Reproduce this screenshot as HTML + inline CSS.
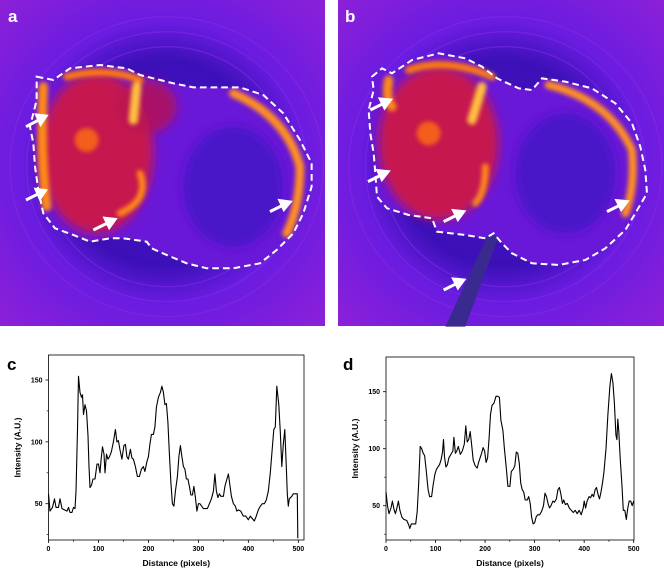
<!DOCTYPE html>
<html><head><meta charset="utf-8"><style>
body{margin:0;background:#fff;width:664px;height:572px;overflow:hidden;font-family:"Liberation Sans",sans-serif}
svg{position:absolute;left:0;top:0}
</style></head><body>
<svg id="s" width="664" height="572" xmlns="http://www.w3.org/2000/svg">
<defs>
<filter id="bl" x="-20%" y="-20%" width="140%" height="140%"><feGaussianBlur stdDeviation="14"/></filter>
<filter id="bl2" x="-20%" y="-20%" width="140%" height="140%"><feGaussianBlur stdDeviation="6"/></filter>
<radialGradient id="bg" cx="50%" cy="50%" r="70%"><stop offset="0" stop-color="#4a12c0"/><stop offset="0.45" stop-color="#3c10b8"/><stop offset="0.62" stop-color="#6a1ce0"/><stop offset="1" stop-color="#8c20d8"/></radialGradient>
</defs>
<g>
<rect x="0" y="0" width="325" height="326" fill="url(#bg)"/>
<g transform="scale(0.3333)">
<g fill="none" stroke="#8a2ae6" stroke-width="4" opacity="0.5">
<ellipse cx="500" cy="500" rx="470" ry="450"/><ellipse cx="500" cy="500" rx="420" ry="405"/><ellipse cx="500" cy="500" rx="370" ry="360"/>
</g>
<path d="M110,230 L160,240 210,205 300,195 380,205 420,225 520,250 580,262 660,262 720,262 790,285 850,340 900,420 935,490 935,560 910,640 880,700 830,750 780,790 700,805 620,805 560,790 500,765 455,745 440,725 370,715 330,715 270,725 220,705 165,685 130,640 115,570 105,500 100,430 90,380 110,300Z" fill="#6a18d8"/>
<g filter="url(#bl)"><ellipse cx="290" cy="460" rx="170" ry="240" fill="#d01840" opacity="0.9"/><ellipse cx="440" cy="320" rx="90" ry="80" fill="#b81450" opacity="0.8"/><ellipse cx="700" cy="560" rx="150" ry="180" fill="#4a14c8"/></g>
<g filter="url(#bl2)" fill="none" stroke-linecap="round">
<path d="M130,260 Q120,450 140,620" stroke="#ff8a18" stroke-width="28"/>
<path d="M200,230 Q320,200 420,240" stroke="#ff7a10" stroke-width="22"/>
<path d="M700,280 Q860,350 900,500 Q900,620 860,700" stroke="#ff9020" stroke-width="26"/>
<path d="M410,260 L400,360" stroke="#ffc040" stroke-width="28"/>
<path d="M420,520 Q450,600 360,640" stroke="#ff8a18" stroke-width="20"/>
<circle cx="260" cy="420" r="36" fill="#ff7010" opacity="0.8"/>
</g>
<path d="M110,230 L160,240 210,205 300,195 380,205 420,225 520,250 580,262 660,262 720,262 790,285 850,340 900,420 935,490 935,560 910,640 880,700 830,750 780,790 700,805 620,805 560,790 500,765 455,745 440,725 370,715 330,715 270,725 220,705 165,685 130,640 115,570 105,500 100,430 90,380 110,300Z" fill="none" stroke="#fff" stroke-width="6" stroke-dasharray="20 12"/>
<g stroke="#fff" stroke-width="9" fill="#fff">
<line x1="78" y1="380" x2="120" y2="358"/><polygon points="138,348 110,345 122,372"/>
<line x1="78" y1="600" x2="118" y2="580"/><polygon points="136,572 108,568 120,595"/>
<line x1="280" y1="690" x2="325" y2="668"/><polygon points="345,658 315,655 328,682"/>
<line x1="810" y1="635" x2="850" y2="615"/><polygon points="870,606 840,602 852,628"/>
</g>
</g>
<text x="8" y="22" font-size="17" font-weight="bold" fill="#fff">a</text>
</g>
<g>
<rect x="338" y="0" width="326" height="326" fill="url(#bg)"/>
<g transform="translate(332,0) scale(0.3333)">
<g fill="none" stroke="#8a2ae6" stroke-width="4" opacity="0.5">
<ellipse cx="520" cy="500" rx="470" ry="450"/><ellipse cx="520" cy="500" rx="420" ry="405"/><ellipse cx="520" cy="500" rx="370" ry="360"/>
</g>
<polygon points="470,700 500,710 400,980 340,980" fill="#3a2a90"/>
<path d="M120,230 L150,205 180,220 240,180 320,160 400,175 450,200 495,235 560,265 600,270 630,235 700,245 780,265 850,310 900,370 925,440 940,510 945,580 910,640 880,690 820,745 760,780 680,795 600,790 540,760 510,730 485,700 460,715 400,705 315,695 300,655 230,645 165,625 135,590 130,520 125,460 115,400 110,330 125,270Z" fill="#6a18d8"/>
<g filter="url(#bl)"><ellipse cx="320" cy="430" rx="180" ry="230" fill="#d01840" opacity="0.9"/><ellipse cx="700" cy="520" rx="150" ry="180" fill="#4a14c8"/></g>
<g filter="url(#bl2)" fill="none" stroke-linecap="round">
<path d="M170,240 Q160,300 180,320" stroke="#ff8a18" stroke-width="28"/>
<path d="M230,210 Q340,170 480,230" stroke="#ff7a10" stroke-width="22"/>
<path d="M650,255 Q830,300 900,450 Q910,560 880,640" stroke="#ff9020" stroke-width="24"/>
<path d="M450,260 L420,360" stroke="#ffc040" stroke-width="28"/>
<path d="M460,500 Q460,580 430,610" stroke="#ff8a18" stroke-width="20"/>
<circle cx="290" cy="400" r="36" fill="#ff7010" opacity="0.8"/>
</g>
<path d="M120,230 L150,205 180,220 240,180 320,160 400,175 450,200 495,235 560,265 600,270 630,235 700,245 780,265 850,310 900,370 925,440 940,510 945,580 910,640 880,690 820,745 760,780 680,795 600,790 540,760 510,730 485,700 460,715 400,705 315,695 300,655 230,645 165,625 135,590 130,520 125,460 115,400 110,330 125,270Z" fill="none" stroke="#fff" stroke-width="6" stroke-dasharray="20 12"/>
<g stroke="#fff" stroke-width="9" fill="#fff">
<line x1="115" y1="330" x2="155" y2="310"/><polygon points="175,300 145,297 158,323"/>
<line x1="108" y1="545" x2="148" y2="525"/><polygon points="168,515 138,512 150,538"/>
<line x1="335" y1="665" x2="375" y2="645"/><polygon points="395,635 365,632 378,658"/>
<line x1="825" y1="635" x2="865" y2="615"/><polygon points="885,605 855,602 868,628"/>
<line x1="335" y1="870" x2="375" y2="850"/><polygon points="395,840 365,837 378,863"/>
</g>
</g>
<text x="345" y="22" font-size="17" font-weight="bold" fill="#fff">b</text>
</g>
<g id="cc"></g>
<g id="cd"></g>
</svg>
<script>
const cDist=[0,3,8,12,15,20,23,27,32,37,40,43,47,50,53,55,58,60,63,66,68,70,73,76,79,81,83,86,89,93,97,100,103,105,108,111,113,116,119,122,126,130,134,137,140,143,147,151,154,157,160,164,167,170,174,178,182,186,190,193,197,200,203,206,210,213,216,220,224,227,230,233,236,239,242,245,248,251,254,258,261,264,267,270,273,276,279,282,285,288,291,294,297,300,303,310,318,322,326,330,333,336,339,342,345,350,353,357,360,363,366,370,374,377,380,385,390,395,400,404,408,412,416,420,424,428,432,436,440,444,448,451,454,457,461,464,467,470,473,476,478,480,482,487,490,494,498,499];
const cVal=[58,44,47,54,47,47,54,46,45,44,47,43,43,47,46,60,110,153,140,136,138,122,130,125,105,80,63,65,70,70,82,82,75,85,96,90,75,90,86,88,92,100,110,100,101,94,86,97,98,88,86,94,87,86,80,72,72,78,80,76,84,88,98,106,106,112,128,136,140,145,140,130,131,116,90,67,50,48,60,72,88,97,88,80,78,70,70,64,57,57,64,55,44,50,50,46,46,50,54,60,74,60,55,58,56,56,64,70,74,65,56,50,48,44,45,44,40,40,37,40,38,36,40,45,48,50,50,53,60,75,95,110,112,145,130,108,80,98,110,80,58,48,54,56,58,58,58,22];
const dDist=[0,3,6,10,13,16,19,22,25,28,32,36,42,46,48,51,56,60,63,66,69,72,75,78,81,85,88,92,95,99,102,105,108,111,114,116,118,121,124,127,131,135,137,140,143,146,150,154,158,161,164,167,170,173,176,180,184,187,190,193,196,199,202,205,208,211,214,218,222,226,229,232,236,239,243,246,250,253,257,260,263,266,269,272,275,278,281,285,288,291,294,297,300,303,306,310,314,318,321,324,327,330,333,337,340,344,347,350,353,356,359,362,366,370,374,378,382,386,390,394,398,400,403,406,410,413,416,419,422,425,428,431,434,437,440,444,448,452,455,458,461,464,466,468,470,473,476,479,482,485,488,491,494,497,500];
const dVal=[62,50,43,48,54,47,43,48,54,46,40,38,37,33,30,34,34,34,45,70,102,100,96,94,82,64,58,58,68,78,82,84,86,90,97,108,93,84,86,92,95,98,110,96,98,102,95,98,104,120,106,108,115,103,90,85,83,88,92,96,101,98,88,92,108,130,138,140,146,146,145,125,116,100,82,67,67,80,82,85,97,96,87,70,64,62,55,55,58,52,40,34,35,40,42,42,45,50,61,58,52,48,50,54,53,56,64,66,60,52,55,51,52,48,46,44,46,43,46,42,48,54,48,54,58,57,60,58,64,66,60,56,62,70,80,100,130,155,166,158,140,112,108,126,115,90,70,46,46,38,48,54,54,50,54];
const xTicks=[0,100,200,300,400,500];
const cYTicks=[50,100,150];
const dYTicks=[50,100,150];
const NS="http://www.w3.org/2000/svg";
function mk(p,t,a){const e=document.createElementNS(NS,t);for(const k in a)e.setAttribute(k,a[k]);p.appendChild(e);return e;}
function chart(gid,letter,box,xr,yr,dist,val,yt){
  const g=document.getElementById(gid);
  const X=v=>box.x0+(v-xr[0])/(xr[1]-xr[0])*(box.x1-box.x0);
  const Y=v=>box.y1-(v-yr[0])/(yr[1]-yr[0])*(box.y1-box.y0);
  const fr=mk(g,'rect',{x:box.x0,y:box.y0,width:box.x1-box.x0,height:box.y1-box.y0,fill:'none',stroke:'#000','stroke-width':0.8});
  
  
  xTicks.forEach(t=>{mk(g,'line',{x1:X(t),x2:X(t),y1:box.y1,y2:box.y1+3,stroke:'#000','stroke-width':0.8});
    const tx=mk(g,'text',{x:X(t),y:box.y1+11,'font-size':7,'font-weight':'bold','text-anchor':'middle'});tx.textContent=t;
    
    
    if(t<500)mk(g,'line',{x1:X(t+50),x2:X(t+50),y1:box.y1,y2:box.y1+1.8,stroke:'#000','stroke-width':0.7});});
  yt.forEach(t=>{mk(g,'line',{x1:box.x0-3,x2:box.x0,y1:Y(t),y2:Y(t),stroke:'#000','stroke-width':0.8});
    mk(g,'line',{x1:box.x0-1.8,x2:box.x0,y1:Y(t-25),y2:Y(t-25),stroke:'#000','stroke-width':0.7});
    const tx=mk(g,'text',{x:box.x0-6,y:Y(t)+2.5,'font-size':7,'font-weight':'bold','text-anchor':'end'});tx.textContent=t;
    
    });
  let d='';dist.forEach((v,i)=>{d+=(i?'L':'M')+X(v).toFixed(1)+','+Y(val[i]).toFixed(1);});
  const ln=mk(g,'path',{d:d,fill:'none',stroke:'#000','stroke-width':1.1,'stroke-linejoin':'round'});
  
  
  const xl=mk(g,'text',{x:(box.x0+box.x1)/2,y:box.y1+26,'font-size':8.5,'font-weight':'bold','text-anchor':'middle'});xl.textContent='Distance (pixels)';
  
  
  const yc=(box.y0+box.y1)/2;
  const yl=mk(g,'text',{x:box.x0-28,y:yc,'font-size':8.5,'font-weight':'bold','text-anchor':'middle',transform:`rotate(-90 ${box.x0-28} ${yc})`});yl.textContent='Intensity (A.U.)';
  
  
  const pl=mk(g,'text',{x:box.lx,y:box.ly,'font-size':17,'font-weight':'bold'});pl.textContent=letter;
  
  
}
chart('cc','c',{x0:48.5,x1:304,y0:355,y1:540,lx:7,ly:370},[0,500*(304-48.5)/(298.3-48.5)],[50-(540-503.7)/1.237,50+(540-355-36.3)/1.237],cDist,cVal,cYTicks);
chart('cd','d',{x0:386,x1:634,y0:357,y1:540,lx:343,ly:370},[0,500*(634-386)/(633.7-386)],[50-(540-505.7)/1.14,50+(540-357-34.3)/1.14],dDist,dVal,dYTicks);
</script>
</body></html>
